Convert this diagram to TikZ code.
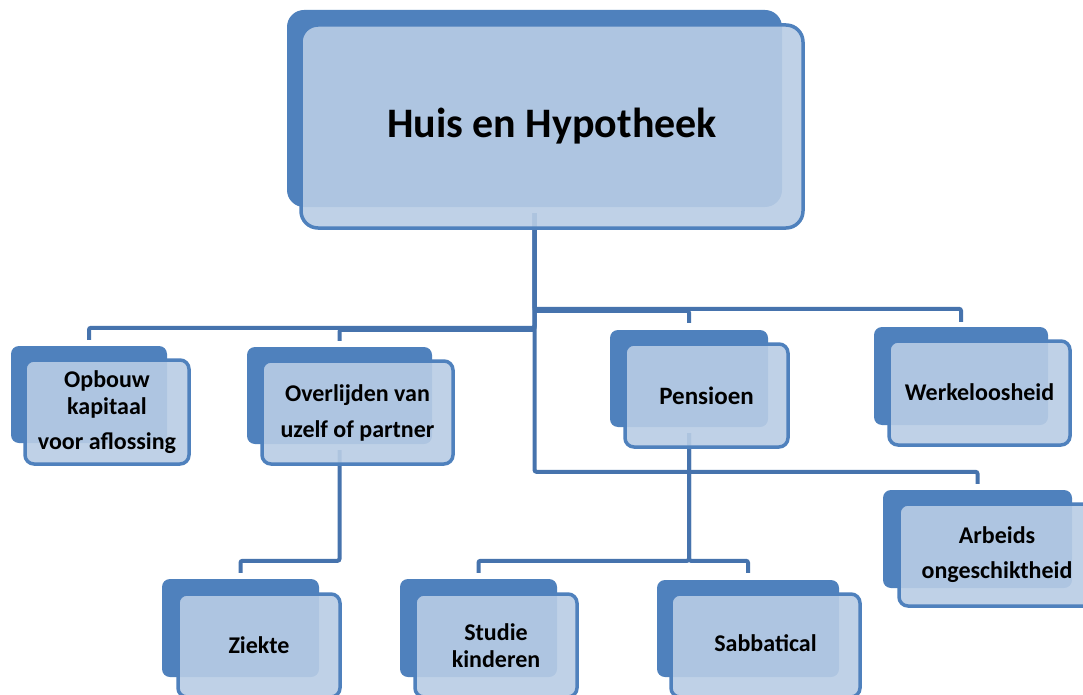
\documentclass[tikz,border=0pt]{standalone}
\usepackage{fontspec}
\setmainfont{Carlito}
\usetikzlibrary{fit,backgrounds}
\definecolor{dk}{HTML}{4F81BD}
\definecolor{lt}{HTML}{B9CDE5}
\definecolor{ln}{HTML}{4673AD}
\tikzset{
  backbox/.style={fill=dk, draw=none, rounded corners=8pt, inner sep=0pt},
  frontbox/.style={fill=lt, fill opacity=0.9, draw=dk, line width=3.5pt,
    rounded corners=9pt, inner sep=0pt},
  lbl/.style={align=center, text=black, inner sep=0pt,
    font=\fontsize{24}{27}\selectfont\bfseries},
  conn/.style={draw=ln, line width=4pt, rounded corners=2pt},
}
\begin{document}
\begin{tikzpicture}[x=1pt,y=-1pt]
\useasboundingbox (0,0) rectangle (1083,695);
\clip (0,0) rectangle (1083,695);

% top
\node[backbox, rounded corners=17pt, fit={(287,10) (782,207)}] (topB) {};
\node[frontbox, rounded corners=17pt, fit={(301,25) (803,228)}] (top) {};
\node[lbl, font=\fontsize{42}{50}\selectfont\bfseries] (topT) at (top.center) {Huis en Hypotheek};

% second row
\node[backbox, fit={(11,346) (167,443)}] (opbB) {};
\node[frontbox, fit={(25,360) (189,464)}] (opb) {};
\node[lbl] (opbT) at (opb.center) {Opbouw\\kapitaal\\[8pt]voor aflossing};

\node[backbox, fit={(247,347) (432,444)}] (ovlB) {};
\node[frontbox, fit={(262,361) (453,464)}] (ovl) {};
\node[lbl] (ovlT) at (ovl.center) {Overlijden van\\[9pt]uzelf of partner};

\node[backbox, fit={(610,330) (768,427)}] (penB) {};
\node[frontbox, fit={(625,344) (788,447)}] (pen) {};
\node[lbl, font=\fontsize{25}{27}\selectfont\bfseries] (penT) at (pen.center) {Pensioen};

\node[backbox, fit={(874,327) (1048,425)}] (werB) {};
\node[frontbox, fit={(889,341) (1070,445)}] (wer) {};
\node[lbl] (werT) at ([yshift=1pt]wer.center) {Werkeloosheid};

\node[backbox, fit={(883,490) (1072,588)}] (arbB) {};
\node[frontbox, fit={(899,504) (1095,606)}] (arb) {};
\node[lbl] (arbT) at (arb.center) {Arbeids\\[8pt]ongeschiktheid};

% bottom row
\node[backbox, fit={(162,579) (319,677)}] (zieB) {};
\node[frontbox, fit={(178,594) (340,697)}] (zie) {};
\node[lbl] (zieT) at (zie.center) {Ziekte};

\node[backbox, fit={(400,579) (557,677)}] (stuB) {};
\node[frontbox, fit={(415,594) (577,697)}] (stu) {};
\node[lbl] (stuT) at (stu.center) {Studie\\kinderen};

\node[backbox, fit={(657,580) (839,677)}] (sabB) {};
\node[frontbox, fit={(671,594) (860,697)}] (sab) {};
\node[lbl] (sabT) at ([yshift=2pt]sab.center) {Sabbatical};

\begin{scope}[on background layer]
\fill[white] (0,0) rectangle (1083,695);
\draw[conn] ([yshift=-6pt]topB.south) |- ([yshift=18pt]opbB.north) -- ([yshift=6pt]opbB.north);
\draw[conn] ([yshift=-6pt]topB.south) |- ([yshift=17pt]ovlB.north) -- ([yshift=6pt]ovlB.north);
\draw[conn] ([yshift=-6pt]topB.south) |- ([yshift=19pt]penB.north) -- ([yshift=7pt]penB.north);
\draw[conn] ([yshift=-6pt]topB.south) |- ([yshift=18pt]werB.north) -- ([yshift=5pt]werB.north);
\draw[conn] ([yshift=-6pt]topB.south) |- ([yshift=18pt]arbB.north) -- ([yshift=6pt]arbB.north);
\draw[conn] ([yshift=-6pt]ovlB.south) |- ([yshift=18pt]zieB.north) -- ([yshift=6pt]zieB.north);
\draw[conn] ([yshift=-6pt]penB.south) |- ([yshift=18pt]stuB.north) -- ([yshift=6pt]stuB.north);
\draw[conn] ([yshift=-6pt]penB.south) |- ([yshift=19pt]sabB.north) -- ([yshift=7pt]sabB.north);
\end{scope}
\end{tikzpicture}
\end{document}
